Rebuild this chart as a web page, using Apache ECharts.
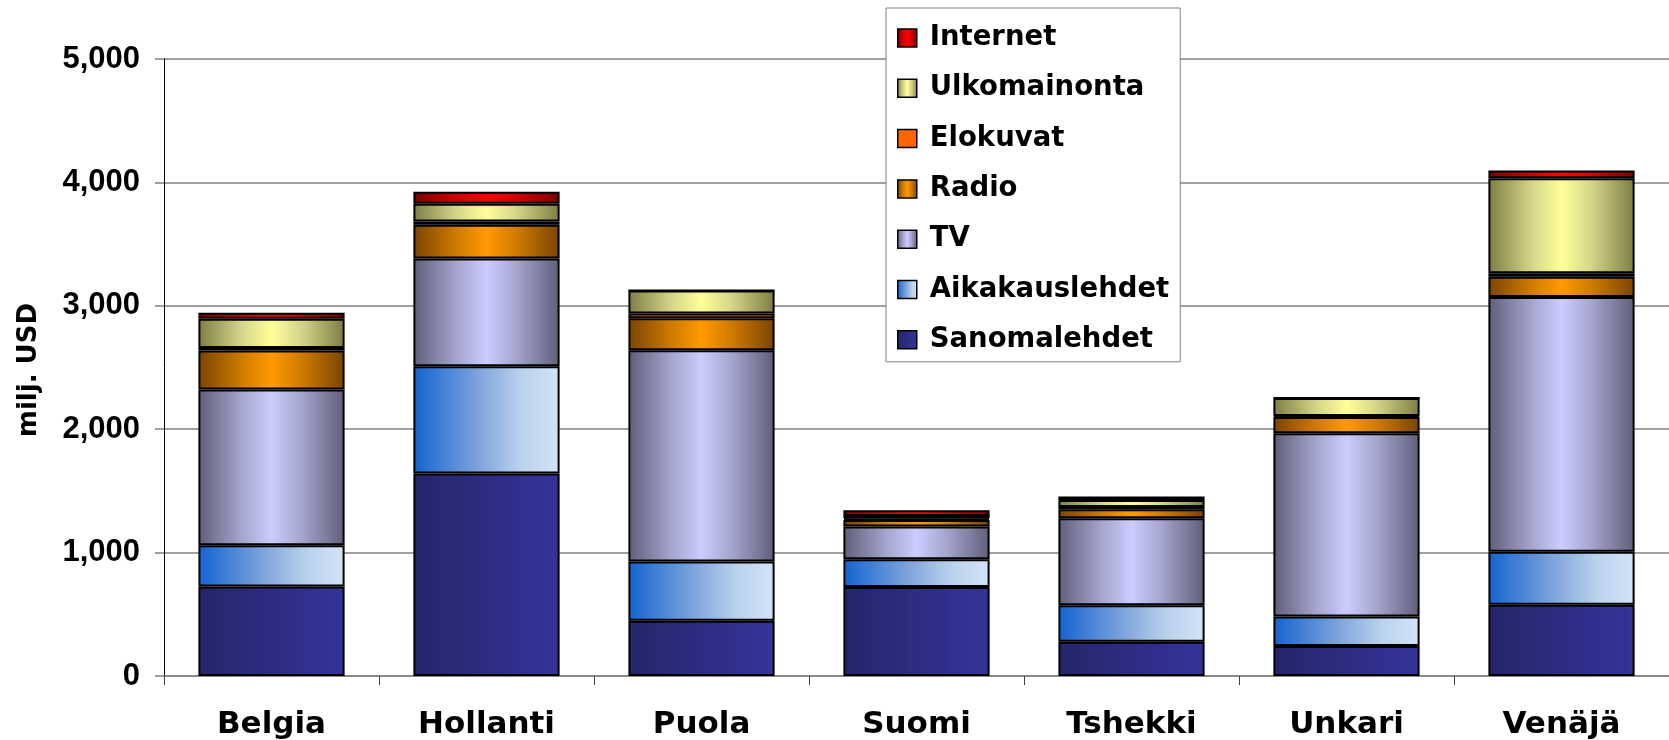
<!DOCTYPE html>
<html>
<head>
<meta charset="utf-8">
<script src="https://cdn.jsdelivr.net/npm/echarts@6/dist/echarts.min.js"></script>
<style>html,body{margin:0;padding:0;background:#fff;}#c{width:1669px;height:740px;}</style>
</head>
<body>
<div id="c"></div>
<script>
var categories = ['Belgia', 'Hollanti', 'Puola', 'Suomi', 'Tshekki', 'Unkari', 'Venäjä'];
var sanomalehdet   = [726, 1640, 447, 722, 278, 243, 577];
var aikakauslehdet = [334, 870, 481, 225, 296, 240, 429];
var tv             = [1262, 874, 1712, 264, 704, 1485, 2065];
var radio          = [316, 273, 259, 54, 73, 130, 165];
var elokuvat       = [21, 27, 38, 11, 19, 8, 28];
var ulkomainonta   = [237, 143, 186, 21, 56, 146, 770];
var internet       = [47, 97, 0, 46, 28, 0, 63];
var yTicks = [0, 1000, 2000, 3000, 4000, 5000];
var legendOrder = ['Internet', 'Ulkomainonta', 'Elokuvat', 'Radio', 'TV', 'Aikakauslehdet', 'Sanomalehdet'];

function grad(stops) {
  return new echarts.graphic.LinearGradient(0, 0, 1, 0, stops.map(function (s) { return { offset: s[0], color: s[1] }; }));
}
var fills = {
  'Sanomalehdet': grad([[0, '#25256a'], [1, '#34349a']]),
  'Aikakauslehdet': grad([[0, '#1363d0'], [0.45, '#7fa5dc'], [0.75, '#bcd3ee'], [1, '#d2e3f5']]),
  'TV': grad([[0, '#5f5f78'], [0.3, '#a6a6d0'], [0.5, '#ccccff'], [0.7, '#a6a6d0'], [1, '#5f5f78']]),
  'Radio': grad([[0, '#7a4400'], [0.3, '#d07c00'], [0.5, '#ff9900'], [0.7, '#d07c00'], [1, '#7a4400']]),
  'Elokuvat': '#ff6600',
  'Ulkomainonta': grad([[0, '#7d7d45'], [0.3, '#d6d68a'], [0.5, '#ffff99'], [0.7, '#d6d68a'], [1, '#7d7d45']]),
  'Internet': grad([[0, '#7a0000'], [0.3, '#d00000'], [0.5, '#ff0000'], [0.7, '#d00000'], [1, '#7a0000']])
};
var seriesData = [
  ['Sanomalehdet', sanomalehdet],
  ['Aikakauslehdet', aikakauslehdet],
  ['TV', tv],
  ['Radio', radio],
  ['Elokuvat', elokuvat],
  ['Ulkomainonta', ulkomainonta],
  ['Internet', internet]
];

var chart = echarts.init(document.getElementById('c'), null, { renderer: 'canvas' });
chart.setOption({
  animation: false,
  backgroundColor: '#ffffff',
  grid: { left: 164, right: 0, top: 59, bottom: 63, containLabel: false },
  legend: {
    data: legendOrder,
    orient: 'vertical',
    left: 886,
    top: 8,
    padding: [15, 11, 7, 11],
    itemGap: 20.3,
    itemWidth: 19,
    itemHeight: 18,
    icon: 'rect',
    backgroundColor: '#ffffff',
    borderColor: '#808080',
    borderWidth: 1,
    borderRadius: 0,
    itemStyle: { borderColor: '#000', borderWidth: 1.5 },
    textStyle: {
      fontFamily: 'DejaVu Sans', fontWeight: 'bold', fontSize: 27.5, color: '#000',
      lineHeight: 30, padding: [0, 0, 0, 8]
    }
  },
  xAxis: {
    type: 'category',
    data: categories,
    boundaryGap: true,
    axisLine: { lineStyle: { color: '#808080', width: 1.5 } },
    axisTick: { show: true, alignWithLabel: false, length: 9, lineStyle: { color: '#404040', width: 1 } },
    axisLabel: { margin: 33, fontFamily: 'DejaVu Sans', fontWeight: 'bold', fontSize: 31, color: '#000' }
  },
  yAxis: {
    type: 'value',
    min: 0,
    max: 5000,
    interval: 1000,
    axisLine: { show: true, lineStyle: { color: '#000', width: 1 } },
    axisTick: { show: true, length: 9, lineStyle: { color: '#808080', width: 1.5 } },
    splitLine: { show: true, lineStyle: { color: '#808080', width: 1.5 } },
    axisLabel: {
      margin: 24, fontFamily: 'Liberation Sans', fontWeight: 'bold', fontSize: 31, color: '#000',
      formatter: function (v) { return yTicks.indexOf(v) >= 0 ? v.toLocaleString('en-US') : ''; }
    }
  },
  graphic: [{
    type: 'text',
    left: 16, top: 303,
    rotation: Math.PI / 2,
    style: { text: 'milj. USD', fontFamily: 'DejaVu Sans', fontWeight: 'bold', fontSize: 26, fill: '#000' }
  }],
  series: seriesData.map(function (s) {
    return {
      name: s[0],
      type: 'bar',
      stack: 'total',
      barCategoryGap: '32%',
      data: s[1],
      itemStyle: { color: fills[s[0]], borderColor: '#000', borderWidth: 2 },
      emphasis: { disabled: true }
    };
  })
});
</script>
</body>
</html>
